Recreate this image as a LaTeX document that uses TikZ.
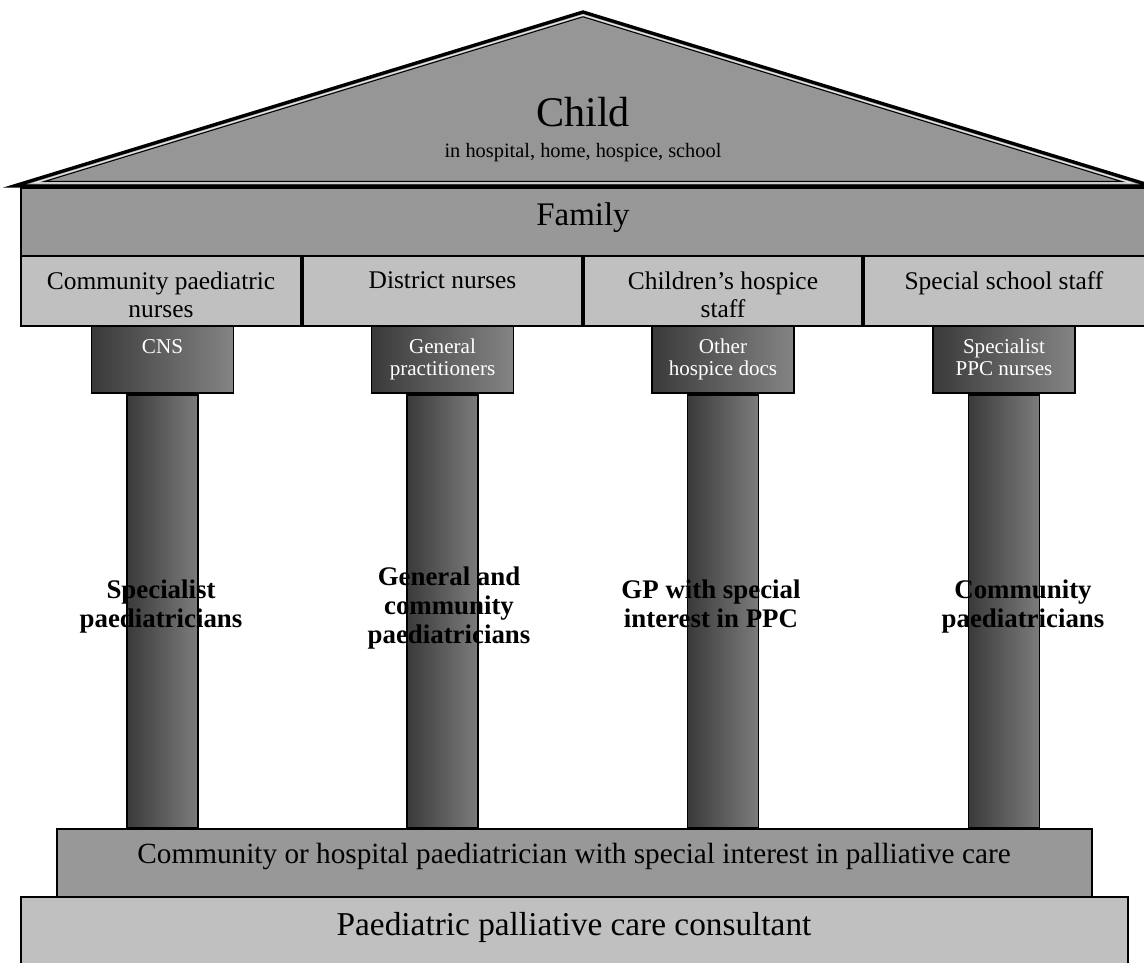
\documentclass[tikz,border=0pt]{standalone}
\usepackage{fontspec}
\setmainfont{Liberation Serif}
\definecolor{roofgray}{RGB}{150,150,150}
\definecolor{bandgray}{RGB}{152,152,152}
\definecolor{cellgray}{RGB}{192,192,192}
\definecolor{capdark}{RGB}{58,58,58}
\definecolor{caplight}{RGB}{132,132,132}
\definecolor{shaftdark}{RGB}{58,58,58}
\definecolor{shaftlight}{RGB}{124,124,124}
\begin{document}
\begin{tikzpicture}[x=0.025cm, y=-0.025cm,
    roof/.style={fill=roofgray, draw=black, line width=2.4pt, line join=miter},
    roofgap/.style={draw=white!80!gray, line width=0.9pt},
    roofinner/.style={draw=black, line width=0.7pt},
    band/.style={fill=bandgray, draw=black, line width=0.9pt},
    cell/.style={fill=cellgray, draw=black, line width=0.9pt},
    capital/.style={left color=capdark, right color=caplight, draw=black, line width=0.9pt},
    shaft/.style={left color=shaftdark, right color=shaftlight, draw=black, line width=0.9pt},
    label/.style={anchor=north, inner sep=0pt, align=center},
    celltext/.style={label, font=\fontsize{18.1}{19.8}\selectfont},
    captext/.style={label, text=white, font=\fontsize{15}{15.2}\selectfont},
    shafttext/.style={label, font=\bfseries\fontsize{19.1}{20.6}\selectfont}
]
    \clip (0,0) rectangle (1144,962);
    \useasboundingbox (0,0) rectangle (1144,962);

    \coordinate (apex) at (583,12);
    \coordinate (eaveL) at (14,186);
    \coordinate (eaveR) at (1152,186);
    \draw[roof] (eaveL) -- (apex) -- (eaveR) -- cycle;
    \draw[roofgap] (34,183) -- (583,15.1) -- (1132,183) -- cycle;
    \draw[roofinner] (44.8,181.4) -- (583,16.8) -- (1121.2,181.4) -- cycle;

    \draw[band] (21,188) rectangle (1150,256);
    \draw[cell] (21,256) rectangle (301,326);
    \draw[cell] (303,256) rectangle (582,326);
    \draw[cell] (584,256) rectangle (862,326);
    \draw[cell] (864,256) rectangle (1150,326);

    \draw[capital] (91.5,326) rectangle (233.5,393);
    \draw[capital] (371.5,326) rectangle (513.5,393);
    \draw[capital] (652,326) rectangle (794,393);
    \draw[capital] (933,326) rectangle (1075,393);

    \draw[shaft] (127,395) rectangle (198,828);
    \draw[shaft] (407,395) rectangle (478,828);
    \draw[shaft] (687.5,395) rectangle (758.5,828);
    \draw[shaft] (968.5,395) rectangle (1039.5,828);

    \draw[band] (57,829) rectangle (1092,897);
    \draw[cell] (21,897) rectangle (1128,975);

    \node[label, font=\fontsize{30}{32}\selectfont] (child) at (583,97) {Child};
    \node[label, font=\fontsize{14.5}{16}\selectfont] (places) at (583,143.5) {in hospital, home, hospice, school};
    \node[label, font=\fontsize{23.4}{25}\selectfont] (family) at (583,202.5) {Family};

    \node[celltext] (cpn) at (161,271.5) {Community paediatric\\nurses};
    \node[celltext] (dn) at (442.5,271.5) {District nurses};
    \node[celltext] (chs) at (723,271.5) {Children’s hospice\\staff};
    \node[celltext] (sss) at (1004,271.5) {Special school staff};

    \node[captext] (cns) at (162.5,339) {CNS};
    \node[captext] (gps) at (442.5,339) {General\\practitioners};
    \node[captext] (ohd) at (723,339) {Other\\hospice docs};
    \node[captext] (ppcn) at (1004,339) {Specialist\\PPC nurses};

    \node[shafttext] (specp) at (161,580) {Specialist\\paediatricians};
    \node[shafttext] (genp) at (449,567) {General and\\community\\paediatricians};
    \node[shafttext] (gpsi) at (711,580) {GP with special\\interest in PPC};
    \node[shafttext] (comp) at (1023,580) {Community\\paediatricians};

    \node[label, font=\fontsize{20.8}{22}\selectfont] (sipc) at (574,843) {Community or hospital paediatrician with special interest in palliative care};
    \node[label, font=\fontsize{23.7}{25}\selectfont] (ppcc) at (574,912) {Paediatric palliative care consultant};
\end{tikzpicture}
\end{document}
